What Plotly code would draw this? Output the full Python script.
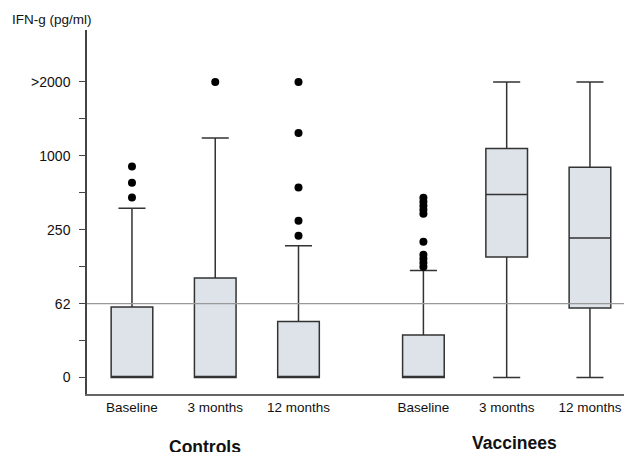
import plotly.graph_objects as go

# Axis scale: ordinal tick units (0 -> "0", 1 -> "62", 2 -> "250", 3 -> "1000", 4 -> ">2000")
tick_vals = [0, 0.5, 1, 1.5, 2, 2.5, 3, 3.5, 4]
tick_text = ["0", "", "62", "", "250", "", "1000", "", ">2000"]

categories = ["Baseline", "3 months", "12 months", "Baseline", "3 months", "12 months"]
positions = [0, 1, 2, 3.5, 4.5, 5.5]

lower_fence = [0, 0, 0, 0, 0, 0]
q1 = [0, 0, 0, 0, 1.63, 0.941]
median = [0, 0, 0, 0, 2.477, 1.887]
q3 = [0.955, 1.347, 0.757, 0.577, 3.10, 2.847]
upper_fence = [2.29, 3.243, 1.784, 1.45, 4.0, 4.0]

out_ctrl_base = [2.855, 2.635, 2.437]
out_ctrl_3m = [4.0]
out_ctrl_12m = [4.0, 3.31, 2.57, 2.12, 1.92]
out_vacc_base = [2.432, 2.378, 2.324, 2.270, 2.216, 1.838, 1.662, 1.608, 1.554, 1.50]
out_vacc_3m = []
out_vacc_12m = []

cutoff = 1  # 62 pg/ml line

groups = ["Controls", "Vaccinees"]

FONT = "Liberation Sans, Arial, sans-serif"

# page has an 8px body margin; figure is sized so the plot lands where the reference has it
W, H = 624, 444
L, T, B = 79, 22, 57.5
PW = W - L
PH = H - T - B

fig = go.Figure()
fig.add_trace(go.Box(
    x=positions, q1=q1, median=median, q3=q3,
    lowerfence=lower_fence, upperfence=upper_fence,
    width=0.5, whiskerwidth=0.65, boxpoints=False,
    fillcolor="#dee3ea", line=dict(color="#333333", width=1.5),
    showlegend=False, hoverinfo="skip",
))

outliers = [out_ctrl_base, out_ctrl_3m, out_ctrl_12m, out_vacc_base, out_vacc_3m, out_vacc_12m]
ox, oy = [], []
for pos, vals in zip(positions, outliers):
    ox += [pos] * len(vals)
    oy += vals
fig.add_trace(go.Scatter(
    x=ox, y=oy, mode="markers",
    marker=dict(color="black", size=8, line=dict(width=0)),
    showlegend=False, hoverinfo="skip",
))

fig.add_shape(type="line", xref="paper", yref="y", x0=0, x1=(624 - 87) / PW, y0=cutoff, y1=cutoff,
              line=dict(color="#999999", width=1.2), layer="above")

def px_x(px):
    return (px - 8 - L) / PW

def px_y(py):
    return (T + PH - (py - 8)) / PH

fig.add_annotation(text="IFN-g (pg/ml)", xref="paper", yref="paper",
                   x=px_x(10), y=px_y(19), xanchor="left", yanchor="middle",
                   showarrow=False, font=dict(family=FONT, size=13.5, color="#111111"))
fig.add_annotation(text="<b>" + groups[0] + "</b>", xref="paper", yref="paper",
                   x=px_x(205), y=px_y(448), xanchor="center", yanchor="middle",
                   showarrow=False, font=dict(family=FONT, size=17.5, color="#111111"))
fig.add_annotation(text="<b>" + groups[1] + "</b>", xref="paper", yref="paper",
                   x=px_x(514), y=px_y(444), xanchor="center", yanchor="middle",
                   showarrow=False, font=dict(family=FONT, size=17.5, color="#111111"))

fig.update_layout(
    width=W, height=H,
    margin=dict(l=L, r=0, t=T, b=B, pad=0),
    paper_bgcolor="white", plot_bgcolor="white",
    font=dict(family=FONT, size=13, color="#111111"),
    xaxis=dict(
        range=[-0.54, 6.005], tickmode="array", tickvals=positions, ticktext=categories,
        showgrid=False, zeroline=False, showline=True, linecolor="#666666", linewidth=1.5,
        ticks="", tickfont=dict(family=FONT, size=13.5, color="#111111"),
    ),
    yaxis=dict(
        range=[-0.223, 4.703], tickmode="array", tickvals=tick_vals, ticktext=tick_text,
        showgrid=False, zeroline=False, showline=True, linecolor="#444444", linewidth=1.5,
        ticks="outside", ticklen=6, tickcolor="#444444", tickwidth=1,
        ticklabelstandoff=6,
        tickfont=dict(family=FONT, size=14, color="#111111"),
    ),
)

fig.write_html("out.html")
